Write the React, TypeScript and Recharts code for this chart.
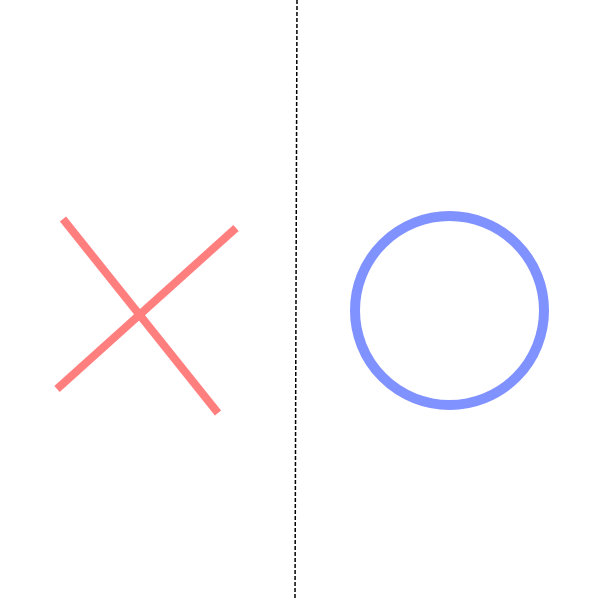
import { ComposedChart, Line, XAxis, YAxis, ReferenceDot } from 'recharts';

// Stroke of the "X" (two crossing strokes)
const strokeA = [
  { x: 63, y: 381 },
  { x: 218, y: 187 },
];
const strokeB = [
  { x: 57, y: 211 },
  { x: 236, y: 372 },
];

// Dashed divider
const divider = [
  { x: 297, y: 600 },
  { x: 295, y: 0 },
];

// Ring ("O")
const ringCenter = { x: 449.5, y: 289.5 };
const ringRadius = 94.5;

export default function App() {
  return (
    <div style={{ position: 'absolute', top: 0, left: 0, width: 600, height: 600, background: '#fff' }}>
      <ComposedChart width={600} height={600} margin={{ top: 0, right: 0, bottom: 0, left: 0 }}>
        <XAxis type="number" dataKey="x" domain={[0, 600]} hide />
        <YAxis type="number" dataKey="y" domain={[0, 600]} hide />
        <Line
          data={divider}
          dataKey="y"
          type="linear"
          stroke="#000"
          strokeWidth={1.5}
          strokeDasharray="4 2"
          dot={false}
          activeDot={false}
          isAnimationActive={false}
        />
        <Line
          data={strokeA}
          dataKey="y"
          type="linear"
          stroke="#ff7f7f"
          strokeWidth={8}
          dot={false}
          activeDot={false}
          isAnimationActive={false}
        />
        <Line
          data={strokeB}
          dataKey="y"
          type="linear"
          stroke="#ff7f7f"
          strokeWidth={8}
          dot={false}
          activeDot={false}
          isAnimationActive={false}
        />
        <ReferenceDot
          x={ringCenter.x}
          y={ringCenter.y}
          r={ringRadius}
          fill="none"
          stroke="#8092ff"
          strokeWidth={10}
          ifOverflow="visible"
        />
      </ComposedChart>
    </div>
  );
}
